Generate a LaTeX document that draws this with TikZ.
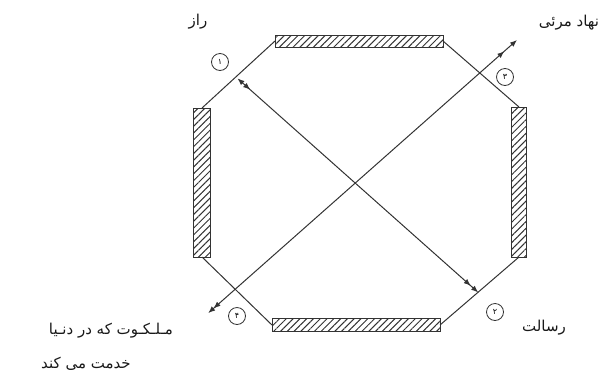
\documentclass[tikz,border=0pt]{standalone}
\usepackage{fontspec}
\newfontfamily\arabicfont[Script=Arabic]{DejaVu Sans}
\TeXXeTstate=1
\usetikzlibrary{arrows.meta,patterns.meta,decorations.markings}
\begin{document}
\begin{tikzpicture}[x=1pt,y=-1pt,
  ln/.style={line width=1pt, draw=black!80},
  bar/.style={rectangle, draw=black!80, line width=0.9pt, inner sep=0pt, outer sep=0pt,
    pattern={Lines[angle=45,distance=4.8pt,line width=1pt]}, pattern color=black!80},
  circ/.style={circle, draw=black!80, line width=0.8pt, minimum size=17pt, inner sep=0pt,
    font=\arabicfont\fontsize{8}{8}\selectfont},
  lbl/.style={inner sep=0pt, text=black!90, font=\arabicfont\fontsize{15}{18}\selectfont}
]
\useasboundingbox (0,0) rectangle (615,381);
% bars
\node[bar, minimum width=168pt, minimum height=12pt] (top) at (359,41) {};
\node[bar, minimum width=168pt, minimum height=13pt] (bot) at (356,325) {};
\node[bar, minimum width=17pt, minimum height=149pt] (lft) at (202,182.5) {};
\node[bar, minimum width=15pt, minimum height=150pt] (rgt) at (519,182) {};
% octagon corner edges
\draw[ln] (top.west) -- (lft.north);
\draw[ln] (top.east) -- (rgt.north);
\draw[ln] (rgt.south) -- (bot.east);
\draw[ln] (bot.west) -- (lft.south);
% diagonals
\coordinate (a1) at (237.5,78.4);
\coordinate (a2) at (478.2,292.4);
\coordinate (b1) at (197,323);
\coordinate (b2) at (517,40);
\draw[ln, {Latex[length=7pt,width=5.5pt]}-{Latex[length=7pt,width=5.5pt,sep=3pt]Latex[length=7pt,width=5.5pt]},
  decoration={markings, mark=at position 17pt with {\arrow{Latex[length=7pt,width=5.5pt]}}},
  postaction=decorate] (a1) -- (a2);
\draw[ln, {Latex[length=7pt,width=5.5pt,sep=15pt]Latex[length=7pt,width=5.5pt]}-{Latex[length=7pt,width=5.5pt,sep=10pt]Latex[length=7pt,width=5.5pt]}] (b1) -- (b2);
% numbered circles
\node[circ] (c1) at (220,62) {۱};
\node[circ] (c3) at (505,77) {۳};
\node[circ] (c2) at (495,312) {۲};
\node[circ] (c4) at (237,316) {۴};
% labels
\node[lbl] (t1) at (198,22) {\beginR راز\endR};
\node[lbl] (t3) at (569,23) {\beginR نهاد مرئی\endR};
\node[lbl] (t2) at (544,328) {\beginR رسالت\endR};
\node[lbl] (t4a) at (111,331) {\beginR مـلـکـوت که در دنـیا\endR};
\node[lbl] (t4b) at (86,364) {\beginR خدمت می کند\endR};
\end{tikzpicture}
\end{document}
